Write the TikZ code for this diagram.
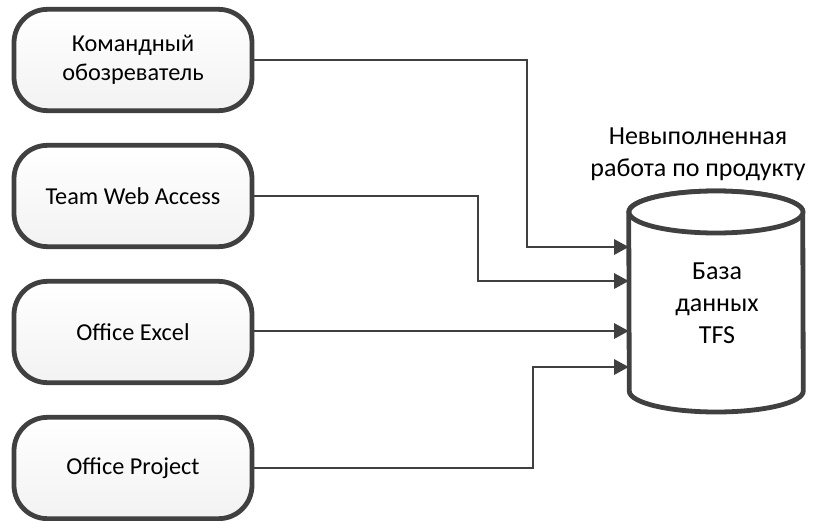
\documentclass[tikz,border=0pt]{standalone}
\usepackage{fontspec}
\setmainfont{Carlito}
\usetikzlibrary{arrows.meta,calc,shadows,positioning}
\definecolor{ink}{HTML}{404040}
\tikzset{
  x=0.75pt,y=-0.75pt,
  appbox/.style={draw=ink,line width=3.6pt,rounded corners=25pt,minimum width=178.5pt,minimum height=76pt,
    top color=white,bottom color=black!5,align=center,inner sep=0pt,font=\fontsize{18.2pt}{21.5pt}\selectfont,
    drop shadow={shadow xshift=1.5pt,shadow yshift=-1.5pt,fill=black!15,opacity=.5}},
  link/.style={draw=ink,line width=1.6pt,-{Triangle[length=11pt,width=11.5pt,fill=ink]},rounded corners=0pt},
  dbanchor/.style={minimum width=130.5pt,minimum height=165.75pt,inner sep=0pt},
  label/.style={align=center,font=\fontsize{19.5pt}{24pt}\selectfont,inner sep=0pt,text=black},
}
\begin{document}
\begin{tikzpicture}
\useasboundingbox (0,0) rectangle (814,521);
\node[appbox] (a) at (133,60) {Командный\\обозреватель};
\node[appbox] (b) at (133,196) {Team Web Access};
\node[appbox] (c) at (133,332) {Office Excel};
\node[appbox] (d) at (133,468) {Office Project};
\node[dbanchor] (db) at (716,301.5) {};
\fill[black!15,opacity=.5] (631,214) -- (631,393) arc[x radius=87,y radius=21,start angle=180,end angle=360] -- (805,214) -- cycle;
\path[draw=ink,line width=3.6pt,fill=white]
  (db.west |- 0,212) arc[x radius=87,y radius=21,start angle=180,end angle=360]
  -- (db.east |- 0,391) arc[x radius=87,y radius=21,start angle=0,end angle=180] -- cycle;
\draw[ink,line width=3.6pt,fill=white] (716,212) ellipse[x radius=87,y radius=21];
\node[label] (dbtext) at (717,303) {База\\данных\\TFS};
\node[label] (dbtitle) at (698,154) {Невыполненная\\работа по продукту};
\coordinate (p1) at (db.west |- 0,247);
\coordinate (p2) at (db.west |- 0,281);
\coordinate (p3) at (db.west |- 0,331);
\coordinate (p4) at (db.west |- 0,367);
\draw[link] (a.east) -- (527,60) -- (527,247) -- (p1);
\draw[link] (b.east) -- (478,196) -- (478,281) -- (p2);
\draw[link] (c.east |- p3) -- (p3);
\draw[link] (d.east) -- (533,468) -- (533,367) -- (p4);
\end{tikzpicture}
\end{document}
